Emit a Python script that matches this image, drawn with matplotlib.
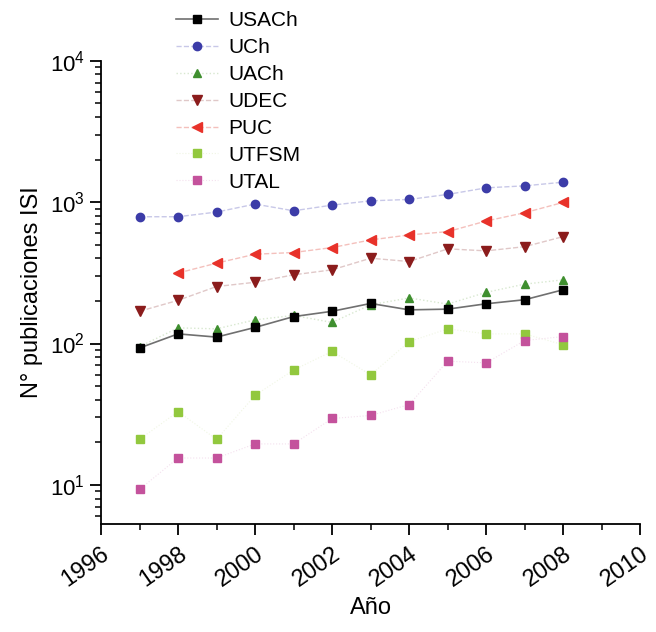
import numpy as np
import matplotlib
matplotlib.use("Agg")
import matplotlib.pyplot as plt
from matplotlib.ticker import LogLocator, MultipleLocator

plt.rcParams['font.family'] = ['Liberation Sans', 'DejaVu Sans']

years = [1997, 1998, 1999, 2000, 2001, 2002, 2003, 2004, 2005, 2006, 2007, 2008]

usach = [93, 117, 111, 130, 155, 169, 192, 173, 175, 191, 204, 240]
uch = [788, 788, 850, 968, 868, 952, 1021, 1044, 1133, 1261, 1303, 1383]
uach = [95, 129, 127, 147, 158, 141, 188, 210, 190, 230, 263, 282]
udec = [169, 202, 253, 271, 306, 332, 401, 380, 467, 452, 484, 570]
puc_years = [1998, 1999, 2000, 2001, 2002, 2003, 2004, 2005, 2006, 2007, 2008]
puc = [315, 370, 428, 440, 477, 540, 586, 618, 735, 841, 995]
utfsm = [21, 33, 21, 43, 65, 88, 60, 103, 127, 117, 117, 98]
utal = [9.3, 15.5, 15.5, 19.5, 19.5, 29.5, 31, 37, 75, 73, 105, 112]

fig = plt.figure(figsize=(6.56, 6.32), dpi=100)
ax = fig.add_axes([0.154, 0.171, 0.822, 0.733])

ms = 6
ax.plot(years, usach, color='#707070', lw=1.2, marker='s', ms=ms,
        mfc='black', mec='black', label='USACh', zorder=5)
ax.plot(years, uch, color='#c8c8e8', lw=1, ls='--', marker='o', ms=ms,
        mfc='#3c3ca8', mec='#3c3ca8', label='UCh')
ax.plot(years, uach, color='#d8e8d0', lw=1, ls=':', marker='^', ms=ms,
        mfc='#3f8f2f', mec='#3f8f2f', label='UACh')
ax.plot(years, udec, color='#e0c8c8', lw=1, ls='--', marker='v', ms=ms + 1,
        mfc='#8b1c1c', mec='#8b1c1c', label='UDEC')
ax.plot(puc_years, puc, color='#f4c0bc', lw=1, ls='--', marker='<', ms=ms + 1,
        mfc='#e8322a', mec='#e8322a', label='PUC')
ax.plot(years, utfsm, color='#f0f6e4', lw=0.8, ls=':', marker='s', ms=ms - 0.5,
        mfc='#92c83e', mec='#92c83e', label='UTFSM')
ax.plot(years, utal, color='#f4e0ee', lw=0.8, ls=':', marker='s', ms=ms - 0.5,
        mfc='#c4529c', mec='#c4529c', label='UTAL')

ax.set_yscale('log')
ax.set_ylim(5.3, 10000)
ax.set_xlim(1996, 2010)
ax.xaxis.set_major_locator(MultipleLocator(2))
ax.xaxis.set_minor_locator(MultipleLocator(1))
ax.yaxis.set_major_locator(LogLocator(base=10, numticks=10))
ax.yaxis.set_minor_locator(LogLocator(base=10, subs=np.arange(2, 10), numticks=10))

ax.spines['top'].set_visible(False)
ax.spines['right'].set_visible(False)
for s in ['left', 'bottom']:
    ax.spines[s].set_linewidth(1.3)

ax.tick_params(which='major', direction='out', length=8, width=1.3, labelsize=16)
ax.tick_params(which='minor', direction='out', length=4, width=1.1)
ax.tick_params(axis='x', which='major', labelsize=17, pad=6)
for lab in ax.get_xticklabels():
    lab.set_rotation(35)
    lab.set_ha('right')
    lab.set_rotation_mode('anchor')

ax.set_xlabel('Año', fontsize=17, labelpad=4)
ax.set_ylabel('N° publicaciones ISI', fontsize=17, labelpad=5)

fig.legend(loc='upper left', bbox_to_anchor=(0.24, 1.012), frameon=False,
           fontsize=15, labelspacing=0.38, handletextpad=0.5, handlelength=2.0)

fig.savefig('out.png', dpi=100)
